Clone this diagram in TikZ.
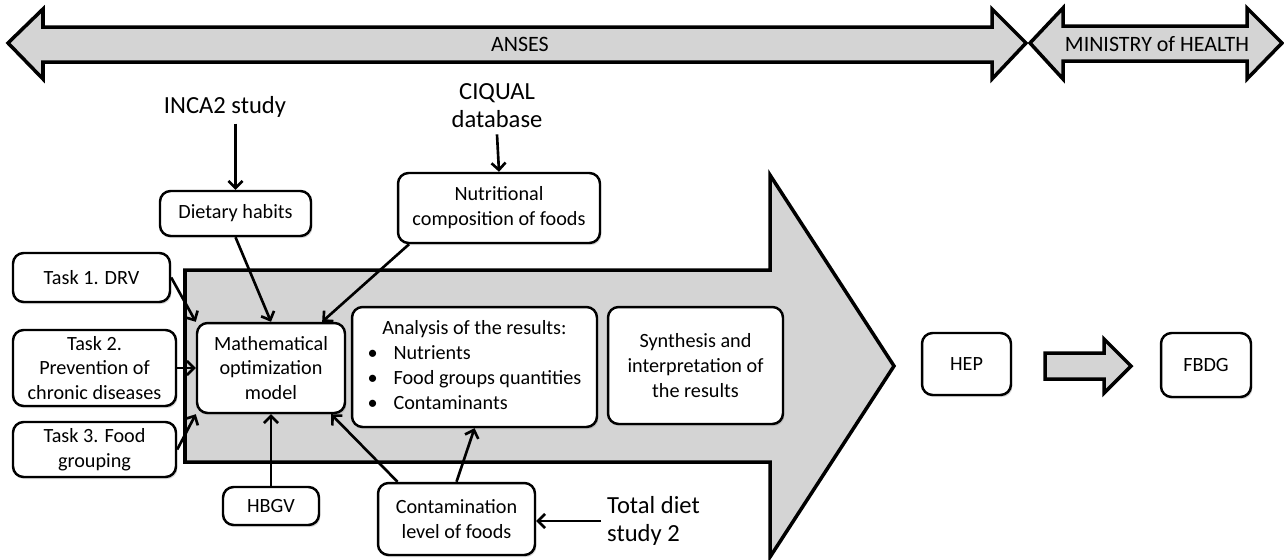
\documentclass[tikz,border=0pt]{standalone}
\usepackage{fontspec}
\setmainfont{Carlito}
\usepackage{tikz}
\usetikzlibrary{calc}
\usetikzlibrary{shadows}
\usetikzlibrary{arrows.meta}

\definecolor{arrowgray}{RGB}{212,212,212}

\begin{document}
\begin{tikzpicture}[x=0.02cm, y=-0.02cm,
	box/.style={draw, line width=1.4pt, rounded corners=6pt, fill=white, align=center, inner sep=2pt, font=\fontsize{11.5}{14.2}\selectfont, drop shadow={shadow xshift=0.8pt, shadow yshift=-1.2pt, opacity=0.3}},
	bigarrow/.style={draw, line width=2pt, fill=arrowgray},
	source/.style={align=center, font=\fontsize{14}{16}\selectfont},
	label/.style={font=\fontsize{12.5}{15}\selectfont},
	link/.style={->, line width=1.5pt, >={Straight Barb[length=4pt, width=8pt]}}]
				\useasboundingbox (0,0) rectangle (1284,559);
				% top bars
				\draw[bigarrow] (8,43) -- (43,9) -- (43,27) -- (992,27) -- (992,9) -- (1026,43) -- (992,79) -- (992,62) -- (43,62) -- (43,79) -- cycle;
				\node[label] (anses) at (520,44) {ANSES};
				\draw[bigarrow] (1030,43) -- (1063,8) -- (1063,26) -- (1247,26) -- (1247,8) -- (1282,43) -- (1247,79) -- (1247,61) -- (1063,61) -- (1063,79) -- cycle;
				\node[label] (ministry) at (1157,44) {MINISTRY of HEALTH};
				% main process arrow
				\draw[bigarrow] (185,270) -- (770,270) -- (770,175) -- (894,366) -- (770,557) -- (770,462) -- (185,462) -- cycle;
				% data sources
				\node[source] (inca) at (225,107) {INCA2 study};
				\node[source] (ciqual) at (497,106) {CIQUAL\\database};
				\node[source, align=left, anchor=west] (tds) at (601,521) {Total diet\\study 2};
				% boxes
				\node[box, minimum width=3.14cm, minimum height=0.98cm] (task1) at (91.5,277.5) {Task 1. DRV};
				\node[box, minimum width=3.26cm, minimum height=1.52cm] (task2) at (94.5,368) {Task 2.\\Prevention of\\chronic diseases};
				\node[box, minimum width=3.26cm, minimum height=1.1cm] (task3) at (94.5,449.5) {Task 3. Food\\grouping};
				\node[box, minimum width=3.02cm, minimum height=0.9cm] (diet) at (235.5,213.5) {Dietary habits};
				\node[box, minimum width=4.04cm, minimum height=1.4cm] (nutri) at (499,208) {Nutritional\\composition of foods};
				\node[box, minimum width=2.96cm, minimum height=1.8cm] (math) at (271,368) {Mathematical\\optimization\\model};
				\node[box, minimum width=4.9cm, minimum height=2.4cm] (analysis) at (474.5,367) {\begin{tabular}{@{}c@{\hspace{9pt}}l@{}}\multicolumn{2}{@{}c@{}}{Analysis of the results:}\\ \textbullet & Nutrients\\ \textbullet & Food groups quantities\\ \textbullet & Contaminants\end{tabular}};
				\node[box, minimum width=3.5cm, minimum height=2.34cm] (synth) at (695.5,365.5) {Synthesis and\\interpretation of\\the results};
				\node[box, minimum width=1.92cm, minimum height=0.76cm] (hbgv) at (271,506) {HBGV};
				\node[box, minimum width=3.14cm, minimum height=1.44cm] (contam) at (456.5,519) {Contamination\\level of foods};
				\node[box, minimum width=1.78cm, minimum height=1.24cm] (hep) at (966.5,364) {HEP};
				\node[box, minimum width=1.8cm, minimum height=1.28cm] (fbdg) at (1206,365) {FBDG};
				% connectors
				\draw[link] (diet.north |- inca.south) -- (diet.north);
				\draw[link] (ciqual.south) -- (nutri.north);
				\draw[link] (task1.east) -- (math.north west);
				\draw[link] (task2.east) -- (math.west);
				\draw[link] (task3.east) -- (math.south west);
				\draw[link] (diet.south) -- (math.north);
				\draw[link] ($(nutri.south west)!0.06!(nutri.south east)$) -- ($(math.north)!0.68!(math.north east)$);
				\draw[link] (hbgv.north) -- (math.south);
				\draw[link] ($(contam.north west)!0.13!(contam.north east)$) -- ($(math.south)!0.8!(math.south east)$);
				\draw[link] (contam.north) -- (analysis.south);
				\draw[link] (tds.west) -- (tds.west -| contam.east);
				\draw[bigarrow] (1045,353) -- (1104,353) -- (1104,339) -- (1131,366) -- (1104,393) -- (1104,379) -- (1045,379) -- cycle;
			\end{tikzpicture}
\end{document}
